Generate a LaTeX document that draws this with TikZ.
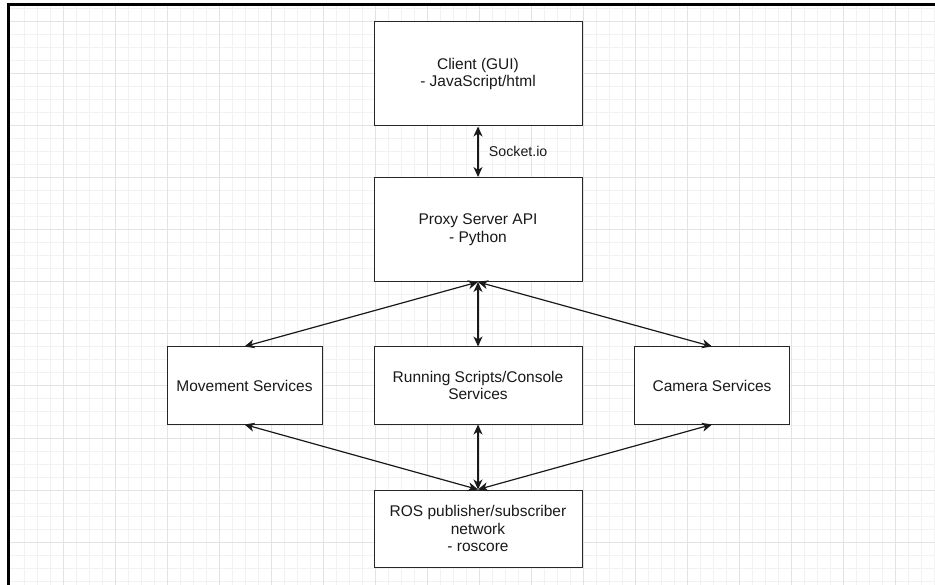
\documentclass[tikz,border=0pt]{standalone}
\usepackage{fontspec}
\setmainfont{Liberation Sans}
\usetikzlibrary{arrows.meta}

\tikzset{
    box/.style={draw=black!85, line width=1pt, fill=white, align=center,
        inner sep=2pt, text=black!90, font=\fontsize{15.5}{17.8}\selectfont},
    bigbox/.style={box, minimum width=208pt, minimum height=104pt},
    rowbox/.style={box, minimum width=208pt, minimum height=77pt},
    sidebox/.style={box, minimum width=155pt, minimum height=77pt},
    link/.style={<->, >={Stealth[length=10pt,width=9pt,inset=3pt]}, line width=1.2pt, black!90},
    minorgrid/.style={line width=1pt, black!5},
    majorgrid/.style={line width=1pt, black!11},
}

\begin{document}
\begin{tikzpicture}[x=1pt, y=-1pt]
    \useasboundingbox[fill=white] (0,0) rectangle (935,585);

    % Background grid
    \foreach \x in {24,37,...,935} \draw[minorgrid] (\x,5) -- (\x,585);
    \foreach \y in {9,22,...,585} \draw[minorgrid] (9,\y) -- (935,\y);
    \foreach \x in {63,115,...,935} \draw[majorgrid] (\x,5) -- (\x,585);
    \foreach \y in {22,74,...,585} \draw[majorgrid] (9,\y) -- (935,\y);

    % Frame
    \draw[line width=3pt] (8.5,585) -- (8.5,4.8) -- (935,4.8);

    % Boxes
    \node[bigbox] (client) at (478,74) {Client (GUI)\\- JavaScript/html};
    \node[bigbox] (proxy) at (478,229.5) {Proxy Server API\\- Python};
    \node[sidebox] (movement) at (244.5,385.5) {Movement Services};
    \node[rowbox] (scripts) at (478,385.5) {Running Scripts/Console\\Services};
    \node[sidebox] (camera) at (712,385.5) {Camera Services};
    \node[rowbox] (ros) at (478,528.5) {ROS publisher/subscriber\\network\\- roscore};

    % Links
    \draw[link] (client.south) -- (proxy.north)
        node[midway, right, xshift=7pt, text=black!90, font=\fontsize{14.2}{16}\selectfont] (socket) {Socket.io};
    \draw[link] (proxy.south) -- (movement.north);
    \draw[link] (proxy.south) -- (scripts.north);
    \draw[link] (proxy.south) -- (camera.north);
    \draw[link] (movement.south) -- (ros.north);
    \draw[link] (scripts.south) -- (ros.north);
    \draw[link] (camera.south) -- (ros.north);
\end{tikzpicture}
\end{document}
